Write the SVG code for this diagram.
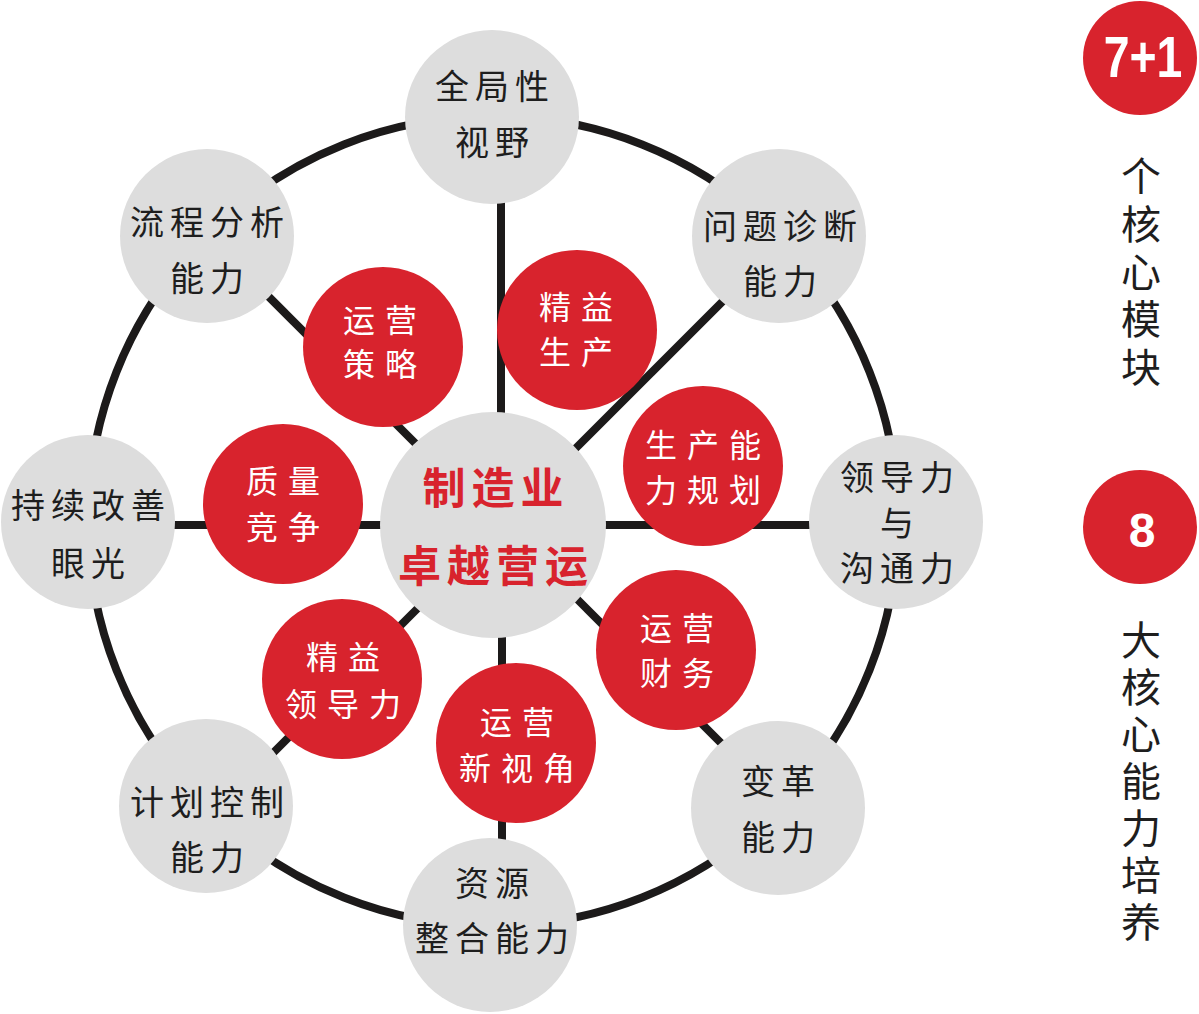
<svg xmlns="http://www.w3.org/2000/svg" width="1199" height="1014" viewBox="0 0 1199 1014">
<style>
.ring{fill:none;stroke:#1c1a1a;stroke-width:8}
.spoke{stroke:#1c1a1a;stroke-width:8;fill:none}
.gray{fill:#dddddd}
.red{fill:#d8232d}
.gt{font-family:"Noto Sans CJK SC","Noto Sans",sans-serif;font-size:34px;fill:#1e1e1e;text-anchor:middle;letter-spacing:6px}
.rt{font-family:"Noto Sans CJK SC","Noto Sans",sans-serif;font-size:32px;fill:#ffffff;text-anchor:middle;letter-spacing:10px}
.ct{font-family:"Noto Sans CJK SC","Noto Sans",sans-serif;font-size:43px;font-weight:700;fill:#d8232d;text-anchor:middle;letter-spacing:6px}
.vt{font-family:"Noto Sans CJK SC","Noto Sans",sans-serif;font-size:40px;fill:#1e1e1e;text-anchor:start;writing-mode:vertical-rl;text-orientation:upright}
.num{font-family:"Liberation Sans",Arial,sans-serif;font-weight:700;fill:#ffffff;text-anchor:middle}
</style>
<rect width="1199" height="1014" fill="#ffffff"/>
<g id="connectors">
<circle class="ring" cx="493" cy="521" r="405"/>
<line class="spoke" x1="501" y1="190" x2="501" y2="430"/>
<line class="spoke" x1="502" y1="620" x2="502" y2="850"/>
<line class="spoke" x1="165" y1="525" x2="400" y2="525"/>
<line class="spoke" x1="590" y1="525" x2="820" y2="525"/>
<line class="spoke" x1="762" y1="262" x2="560" y2="464"/>
<line class="spoke" x1="225" y1="253" x2="440" y2="468"/>
<line class="spoke" x1="225" y1="801" x2="440" y2="586"/>
<line class="spoke" x1="560" y1="582" x2="760" y2="782"/>
</g>
<g id="node-center">
<circle class="gray" cx="493" cy="525" r="113"/>
<text class="ct" x="496" y="504">制造业</text>
<text class="ct" x="496" y="582">卓越营运</text>
</g>
<g id="node-quanju">
<circle class="gray" cx="492" cy="117" r="87"/>
<text class="gt" x="495" y="99">全局性</text>
<text class="gt" x="495" y="155">视野</text>
</g>
<g id="node-wenti">
<circle class="gray" cx="779" cy="236" r="87"/>
<text class="gt" x="783" y="239">问题诊断</text>
<text class="gt" x="783" y="294">能力</text>
</g>
<g id="node-lingdao">
<circle class="gray" cx="896" cy="522" r="87"/>
<text class="gt" x="900" y="490">领导力</text>
<text class="gt" x="900" y="536">与</text>
<text class="gt" x="900" y="581">沟通力</text>
</g>
<g id="node-biange">
<circle class="gray" cx="778" cy="808" r="87"/>
<text class="gt" x="781" y="794">变革</text>
<text class="gt" x="781" y="850">能力</text>
</g>
<g id="node-ziyuan">
<circle class="gray" cx="490" cy="925" r="87"/>
<text class="gt" x="495" y="896">资源</text>
<text class="gt" x="495" y="951">整合能力</text>
</g>
<g id="node-jihua">
<circle class="gray" cx="206" cy="806" r="87"/>
<text class="gt" x="210" y="815">计划控制</text>
<text class="gt" x="210" y="870">能力</text>
</g>
<g id="node-chixu">
<circle class="gray" cx="88" cy="522" r="87"/>
<text class="gt" x="91" y="518">持续改善</text>
<text class="gt" x="91" y="576">眼光</text>
</g>
<g id="node-liucheng">
<circle class="gray" cx="207" cy="236" r="87"/>
<text class="gt" x="210" y="235">流程分析</text>
<text class="gt" x="210" y="291">能力</text>
</g>
<g id="node-yunying-celue">
<circle class="red" cx="383" cy="347" r="80"/>
<text class="rt" x="385" y="332">运营</text>
<text class="rt" x="385" y="376">策略</text>
</g>
<g id="node-jingyi-shengchan">
<circle class="red" cx="577" cy="330" r="80"/>
<text class="rt" x="581" y="319">精益</text>
<text class="rt" x="581" y="364">生产</text>
</g>
<g id="node-shengchan-guihua">
<circle class="red" cx="703" cy="466" r="80"/>
<text class="rt" x="708" y="457">生产能</text>
<text class="rt" x="708" y="502">力规划</text>
</g>
<g id="node-zhiliang">
<circle class="red" cx="283" cy="504" r="80"/>
<text class="rt" x="288" y="493">质量</text>
<text class="rt" x="288" y="539">竞争</text>
</g>
<g id="node-caiwu">
<circle class="red" cx="676" cy="650" r="80"/>
<text class="rt" x="682" y="640">运营</text>
<text class="rt" x="682" y="685">财务</text>
</g>
<g id="node-jingyi-lingdao">
<circle class="red" cx="342" cy="679" r="80"/>
<text class="rt" x="348" y="669">精益</text>
<text class="rt" x="348" y="716">领导力</text>
</g>
<g id="node-xinshijiao">
<circle class="red" cx="516" cy="743" r="80"/>
<text class="rt" x="522" y="734">运营</text>
<text class="rt" x="522" y="780">新视角</text>
</g>
<g id="legend-modules">
<circle class="red" cx="1140" cy="58" r="57"/>
<text class="num" transform="translate(1143,77) scale(0.8,1)" x="0" y="0" font-size="58">7+1</text>
<text class="vt" x="1141" y="156" letter-spacing="7.75">个核心模块</text>
</g>
<g id="legend-abilities">
<circle class="red" cx="1140" cy="527" r="57"/>
<text class="num" x="1142" y="547" font-size="48">8</text>
<text class="vt" x="1141" y="620" letter-spacing="7">大核心能力培养</text>
</g>
</svg>
